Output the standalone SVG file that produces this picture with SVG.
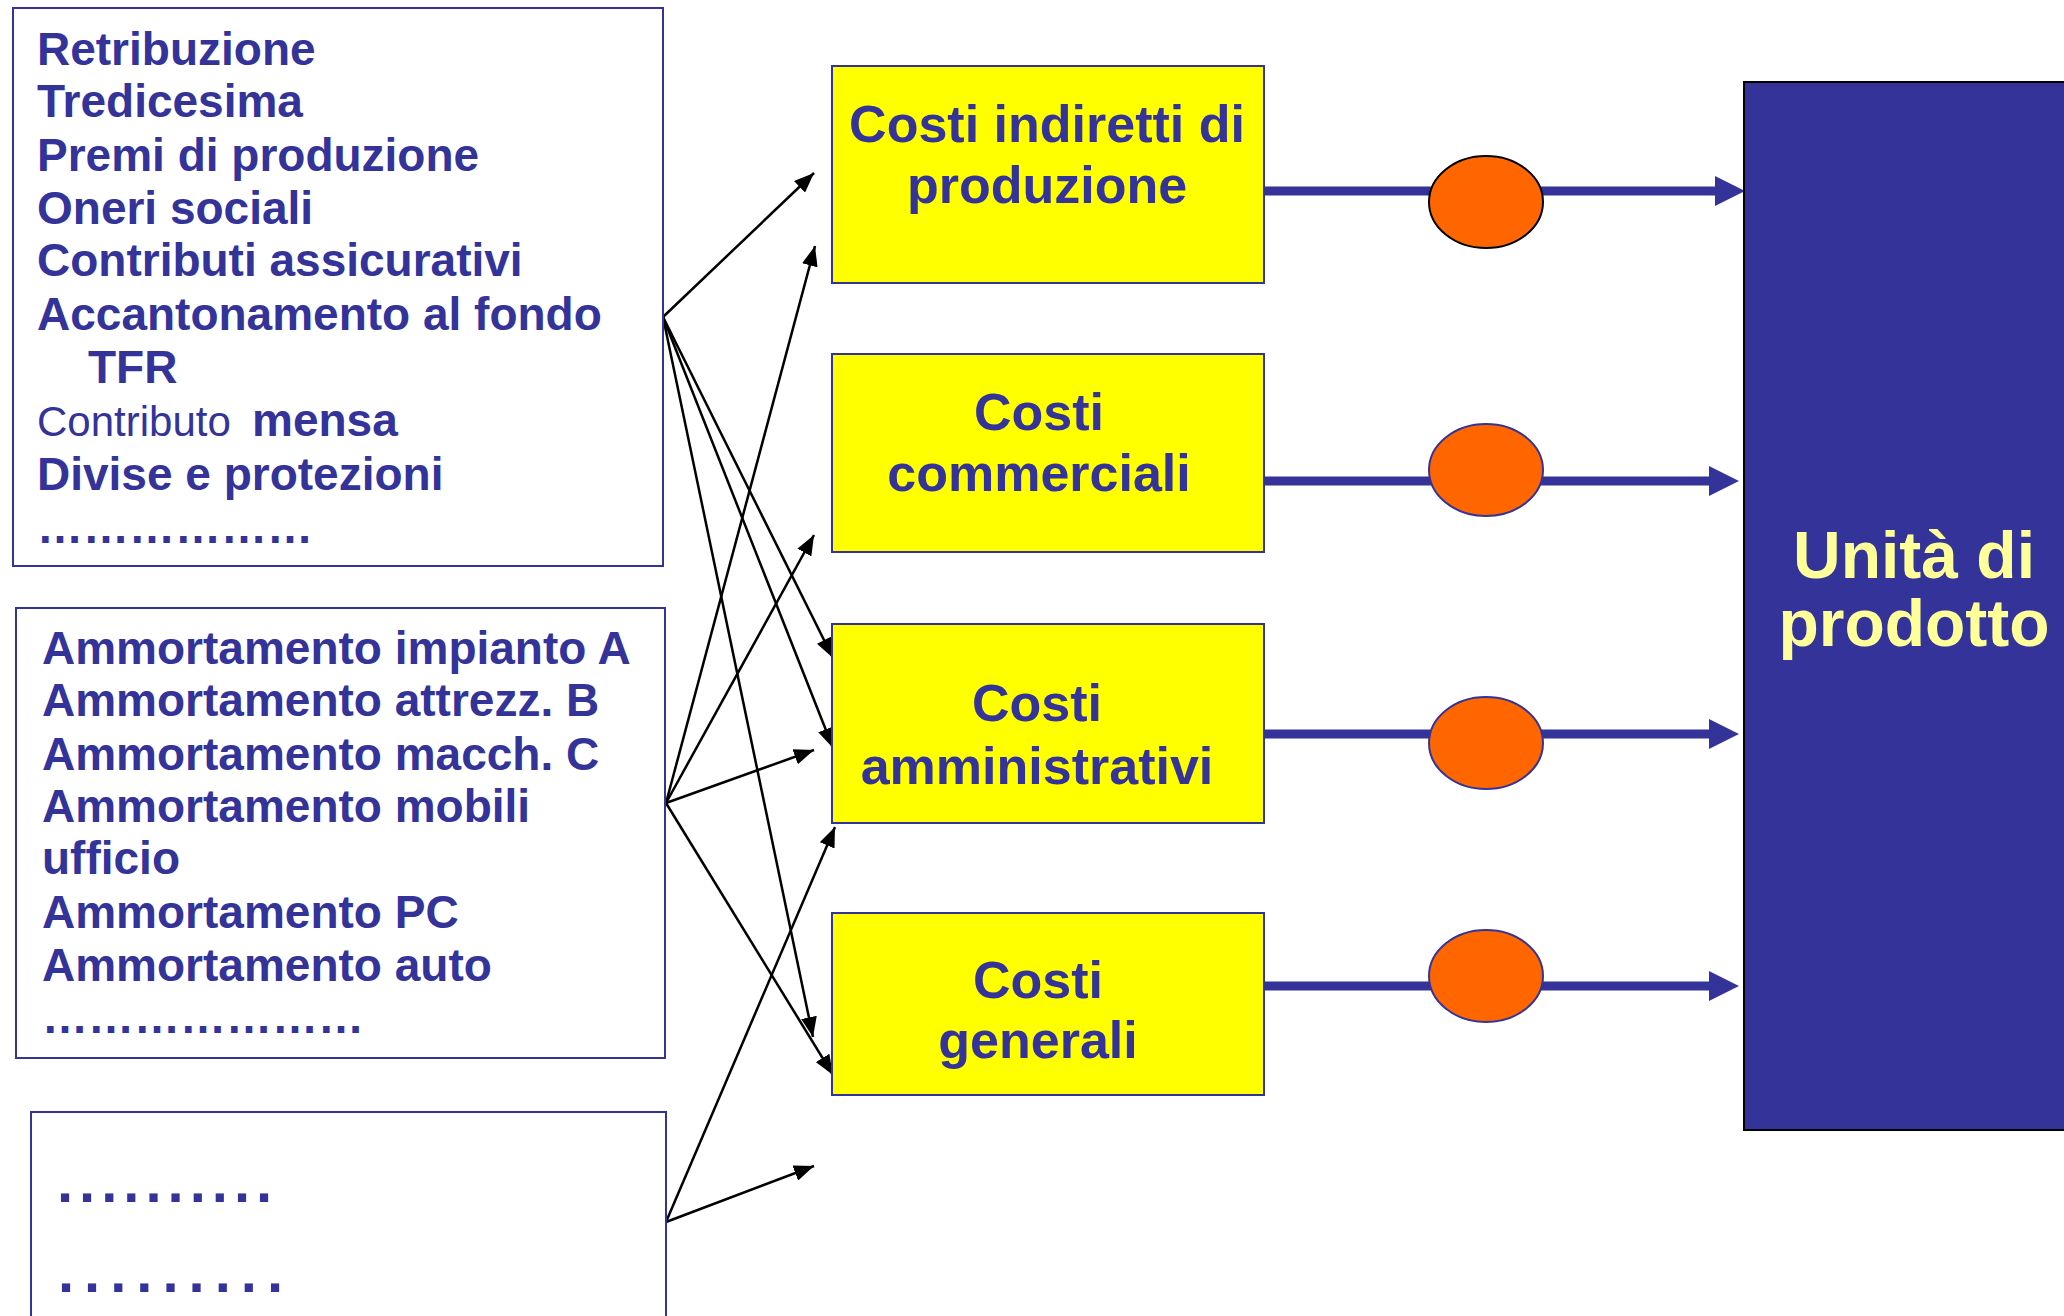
<svg xmlns="http://www.w3.org/2000/svg" width="2064" height="1316" viewBox="0 0 2064 1316">
<style>
.src{fill:#FFFFFF;stroke:#333399;stroke-width:2}
.lt{font-family:"Liberation Sans",Arial,sans-serif;font-weight:bold;font-size:46px;fill:#333399}
.reg{font-weight:normal;font-size:42px}
.dots{font-family:"Liberation Sans",Arial,sans-serif;font-weight:bold;font-size:58px;fill:#333399}
.ybox{fill:#FFFF00;stroke:#333399;stroke-width:2}
.yt{font-family:"Liberation Sans",Arial,sans-serif;font-weight:bold;font-size:52px;fill:#333399;text-anchor:middle}
.ell{fill:#FF6600;stroke:#333399;stroke-width:2}
.ell-dark{stroke:#000000}
.blk{stroke:#000000;stroke-width:2.5;fill:none;marker-end:url(#ah)}
.blu{stroke:#333399;stroke-width:9;fill:none;marker-end:url(#bh)}
.ut{font-family:"Liberation Sans",Arial,sans-serif;font-weight:bold;font-size:66px;fill:#FFFF99;text-anchor:middle}
</style>
<defs>
<marker id="ah" viewBox="0 0 20 16" refX="20" refY="8" markerWidth="20" markerHeight="16" markerUnits="userSpaceOnUse" orient="auto">
<path d="M0,0 L20,8 L0,16 z" fill="#000000"/>
</marker>
<marker id="bh" viewBox="0 0 30 30" refX="10" refY="15" markerWidth="30" markerHeight="30" markerUnits="userSpaceOnUse" orient="auto">
<path d="M0,0 L30,15 L0,30 z" fill="#333399"/>
</marker>
</defs>
<rect width="2064" height="1316" fill="#FFFFFF"/>

<g id="connectors">
<line class="blk" x1="663" y1="317" x2="814" y2="173"/>
<line class="blk" x1="663" y1="317" x2="833" y2="658"/>
<line class="blk" x1="663" y1="317" x2="833" y2="748"/>
<line class="blk" x1="663" y1="317" x2="813" y2="1037"/>
<line class="blk" x1="666" y1="803" x2="815" y2="246"/>
<line class="blk" x1="666" y1="803" x2="814" y2="535"/>
<line class="blk" x1="666" y1="803" x2="814" y2="750"/>
<line class="blk" x1="666" y1="803" x2="833" y2="1075"/>
<line class="blk" x1="666" y1="1222" x2="835" y2="827"/>
<line class="blk" x1="666" y1="1222" x2="814" y2="1166"/>
<line class="blu" x1="1264" y1="191" x2="1725" y2="191"/>
<line class="blu" x1="1264" y1="481" x2="1719" y2="481"/>
<line class="blu" x1="1264" y1="734" x2="1719" y2="734"/>
<line class="blu" x1="1264" y1="986" x2="1719" y2="986"/>
</g>

<g id="src-personale">
<rect class="src" x="13" y="8" width="650" height="558"/>
<text class="lt" x="37" y="65">Retribuzione</text>
<text class="lt" x="37" y="117">Tredicesima</text>
<text class="lt" x="37" y="171">Premi di produzione</text>
<text class="lt" x="37" y="224">Oneri sociali</text>
<text class="lt" x="37" y="276">Contributi assicurativi</text>
<text class="lt" x="37" y="330">Accantonamento al fondo</text>
<text class="lt" x="88" y="383">TFR</text>
<text class="lt" x="37" y="436"><tspan class="reg">Contributo</tspan><tspan x="252">mensa</tspan></text>
<text class="lt" x="37" y="490">Divise e protezioni</text>
<text class="lt" x="37" y="543">………………</text>
</g>

<g id="src-ammortamenti">
<rect class="src" x="16" y="608" width="649" height="450"/>
<text class="lt" x="42" y="664">Ammortamento impianto A</text>
<text class="lt" x="42" y="716">Ammortamento attrezz. B</text>
<text class="lt" x="42" y="770">Ammortamento macch. C</text>
<text class="lt" x="42" y="822">Ammortamento mobili</text>
<text class="lt" x="42" y="874">ufficio</text>
<text class="lt" x="42" y="928">Ammortamento PC</text>
<text class="lt" x="42" y="981">Ammortamento auto</text>
<text class="lt" x="42" y="1033">…………………</text>
</g>

<g id="src-altro">
<rect class="src" x="31" y="1112" width="635" height="260"/>
<text class="dots" x="57" y="1202" letter-spacing="6">..........</text>
<text class="dots" x="58" y="1292" letter-spacing="10">.........</text>
</g>

<g id="costi-indiretti">
<rect class="ybox" x="832" y="66" width="432" height="217"/>
<text class="yt" x="1047" y="142">Costi indiretti di</text>
<text class="yt" x="1047" y="203">produzione</text>
</g>

<g id="costi-commerciali">
<rect class="ybox" x="832" y="354" width="432" height="198"/>
<text class="yt" x="1039" y="430">Costi</text>
<text class="yt" x="1039" y="491">commerciali</text>
</g>

<g id="costi-amministrativi">
<rect class="ybox" x="832" y="624" width="432" height="199"/>
<text class="yt" x="1037" y="721">Costi</text>
<text class="yt" x="1037" y="784">amministrativi</text>
</g>

<g id="costi-generali">
<rect class="ybox" x="832" y="913" width="432" height="182"/>
<text class="yt" x="1038" y="998">Costi</text>
<text class="yt" x="1038" y="1058">generali</text>
</g>

<g id="driver-1"><ellipse class="ell ell-dark" cx="1486" cy="202" rx="57" ry="46"/></g>
<g id="driver-2"><ellipse class="ell" cx="1486" cy="470" rx="57" ry="46"/></g>
<g id="driver-3"><ellipse class="ell" cx="1486" cy="743" rx="57" ry="46"/></g>
<g id="driver-4"><ellipse class="ell" cx="1486" cy="976" rx="57" ry="46"/></g>

<g id="unita-prodotto">
<rect x="1744" y="82" width="340" height="1048" fill="#333399" stroke="#000000" stroke-width="2"/>
<text class="ut" x="1914" y="578">Unità di</text>
<text class="ut" x="1914" y="646">prodotto</text>
</g>
</svg>
